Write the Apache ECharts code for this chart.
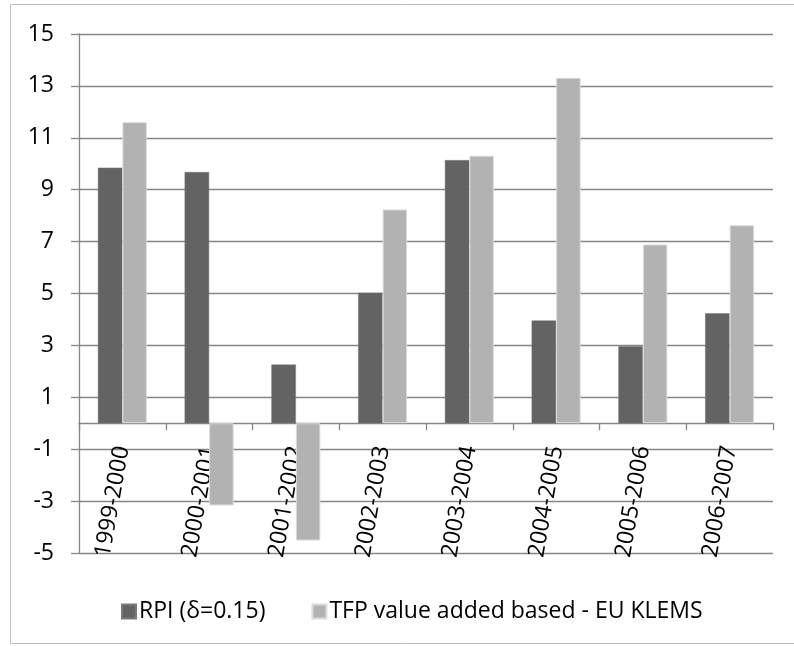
<!DOCTYPE html>
<html>
<head>
<meta charset="utf-8">
<script src="https://cdn.jsdelivr.net/npm/echarts@6/dist/echarts.min.js"></script>
<style>html,body{margin:0;padding:0;background:#fff;}#c{width:794px;height:646px;}</style>
</head>
<body>
<div id="c"></div>
<script>
const categories = ['1999-2000','2000-2001','2001-2002','2002-2003','2003-2004','2004-2005','2005-2006','2006-2007'];
const rpiValues = [9.85, 9.68, 2.26, 5.03, 10.14, 3.96, 2.97, 4.24];
const tfpValues = [11.6, -3.17, -4.52, 8.24, 10.31, 13.31, 6.89, 7.63];
const seriesNames = ['RPI (δ=0.15)', 'TFP value added based - EU KLEMS'];
const yTicks = [-5, -3, -1, 1, 3, 5, 7, 9, 11, 13, 15];

const chart = echarts.init(document.getElementById('c'), null, {renderer: 'canvas'});
const FONT = '"Open Sans", sans-serif';
const GRID = '#868686';
const yMin = yTicks[0], yMax = yTicks[yTicks.length-1];
const gridTop = 34, gridBottom = 93, H = 646;
const plotH = H - gridTop - gridBottom;
const zeroOffset = -plotH * (0 - yMin) / (yMax - yMin);
chart.setOption({
  animation: false,
  backgroundColor: '#fff',
  graphic: [{
    type: 'rect', shape: {x: 10.5, y: 4.5, width: 800, height: 639},
    style: {fill: 'none', stroke: '#bdbdbd', lineWidth: 1}, silent: true, z: -10
  }],
  grid: {left: 79, right: 21, top: gridTop, bottom: gridBottom, containLabel: false, outerBoundsMode: 'none'},
  legend: {
    left: 116, top: 595,
    itemWidth: 14, itemHeight: 14, itemGap: 46,
    icon: 'rect',
    textStyle: {fontFamily: FONT, fontSize: 23, color: '#000', padding: [0,0,0,-2]},
    data: seriesNames
  },
  xAxis: {
    type: 'category', data: categories, position: 'bottom', offset: zeroOffset,
    axisLine: {onZero: false, lineStyle: {color: GRID, width: 1.3}},
    axisTick: {show: true, length: 7, lineStyle: {color: GRID, width: 1.3}},
    axisLabel: {rotate: 80, margin: 23, fontFamily: FONT, fontSize: 23, color: '#000', interval: 0}
  },
  yAxis: {
    type: 'value', min: yMin, max: yMax, interval: 2,
    axisLine: {show: true, lineStyle: {color: GRID, width: 1.3}},
    axisTick: {show: true, length: 8, lineStyle: {color: GRID, width: 1.3}},
    splitLine: {lineStyle: {color: GRID, width: 1.3}},
    axisLabel: {margin: 25, fontFamily: FONT, fontSize: 23, color: '#000'}
  },
  series: [
    {name: seriesNames[0], type: 'bar', data: rpiValues, barGap: '0%', barCategoryGap: '43.5%',
     itemStyle: {color: '#636363', borderColor: '#7a7a7a', borderWidth: 0.5}},
    {name: seriesNames[1], type: 'bar', data: tfpValues, barGap: '0%', barCategoryGap: '43.5%',
     itemStyle: {color: '#b2b2b2', borderColor: '#dcdcdc', borderWidth: 1}}
  ]
});
</script>
</body>
</html>
